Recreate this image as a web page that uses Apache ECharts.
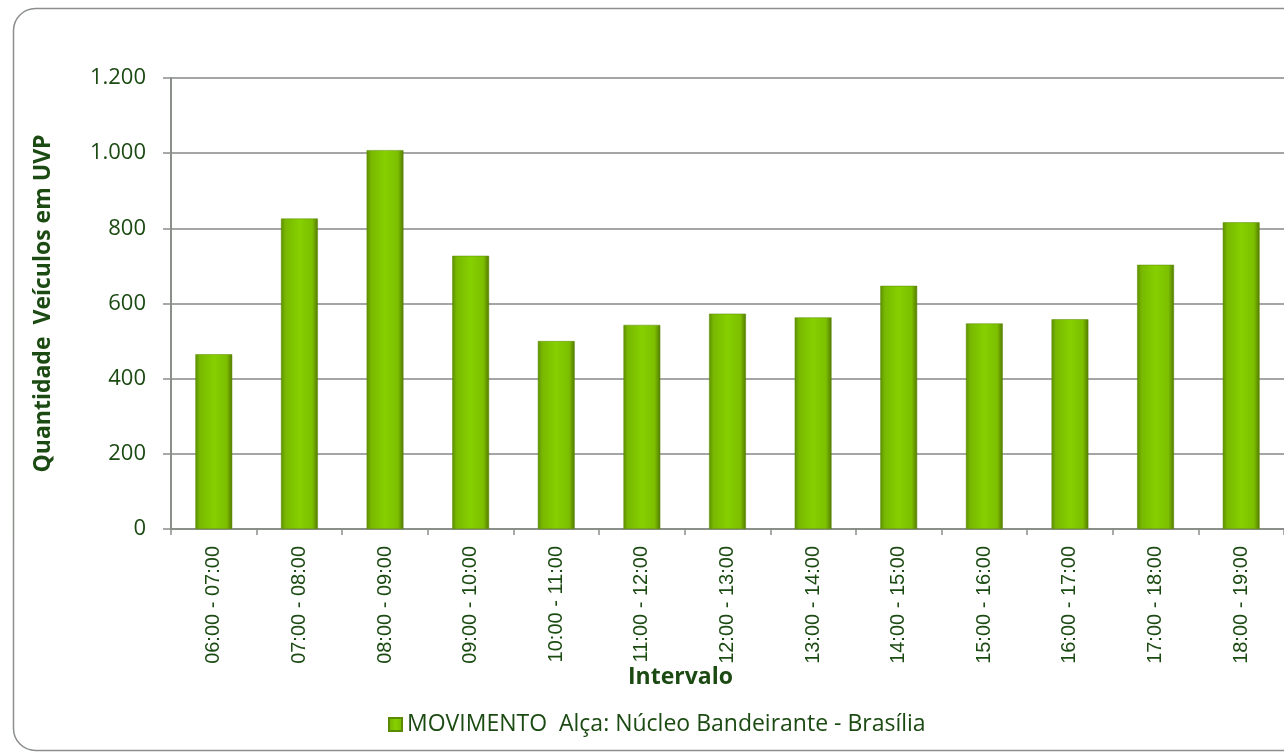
<!DOCTYPE html>
<html>
<head>
<meta charset="utf-8">
<script src="https://cdn.jsdelivr.net/npm/echarts@6/dist/echarts.min.js"></script>
<style>html,body{margin:0;padding:0;background:#fff;}#c{width:1284px;height:752px;}</style>
</head>
<body>
<div id="c"></div>
<script>
const categories = ["06:00 - 07:00","07:00 - 08:00","08:00 - 09:00","09:00 - 10:00","10:00 - 11:00","11:00 - 12:00","12:00 - 13:00","13:00 - 14:00","14:00 - 15:00","15:00 - 16:00","16:00 - 17:00","17:00 - 18:00","18:00 - 19:00"];
const values = [465, 826, 1008, 727, 500, 543, 573, 563, 647, 547, 558, 703, 816];
const seriesName = "MOVIMENTO  Alça: Núcleo Bandeirante - Brasília";
const yAxisTitle = "Quantidade  Veículos em UVP";
const xAxisTitle = "Intervalo";

const txt = "#1b4a12";
const font = '"Open Sans", "Noto Sans", sans-serif';
const chart = echarts.init(document.getElementById('c'), null, {renderer: 'canvas'});
const barFill = new echarts.graphic.LinearGradient(0, 0, 1, 0, [
  {offset: 0, color: '#5e8f00'},
  {offset: 0.12, color: '#78b800'},
  {offset: 0.5, color: '#86d000'},
  {offset: 0.85, color: '#7cbf00'},
  {offset: 0.92, color: '#6a9e00'},
  {offset: 1, color: '#517a00'}
]);
chart.setOption({
  animation: false,
  textStyle: {fontFamily: font},
  graphic: [
    {type: 'rect', shape: {x: 13.5, y: 8.5, width: 1300, height: 742, r: 22},
     style: {fill: 'none', stroke: '#8a8f8a', lineWidth: 1.5}, silent: true, z: -10},
    {type: 'text', left: 628, top: 666,
     style: {text: xAxisTitle, fill: txt, font: 'bold 23px ' + font}}
  ],
  grid: {left: 171, top: 78, right: 0, bottom: 223, containLabel: false},
  legend: {
    left: 383, top: 708, itemWidth: 13, itemHeight: 13, itemGap: 3,
    textStyle: {color: txt, fontSize: 23, fontFamily: font},
    data: [{name: seriesName, icon: 'rect'}]
  },
  xAxis: {
    type: 'category', data: categories,
    axisLine: {lineStyle: {color: '#8a8f8a', width: 2}},
    axisTick: {show: true, alignWithLabel: false, length: 6, lineStyle: {color: '#8a8f8a', width: 1.5}},
    axisLabel: {rotate: 90, color: txt, fontSize: 20, fontFamily: '"Liberation Sans", Arial, sans-serif', margin: 17, interval: 0},
    splitLine: {show: false}
  },
  yAxis: {
    type: 'value', min: 0, max: 1200, interval: 200,
    name: yAxisTitle, nameLocation: 'middle', nameGap: 116, nameRotate: 90,
    nameTextStyle: {color: txt, fontSize: 23, fontWeight: 'bold', fontFamily: font},
    axisLine: {show: true, lineStyle: {color: '#8a8f8a', width: 2}},
    axisTick: {show: true, length: 8, lineStyle: {color: '#8a8f8a', width: 1.5}},
    axisLabel: {color: txt, fontSize: 22, margin: 25, fontFamily: font,
      formatter: v => v >= 1000 ? Math.floor(v/1000) + '.' + String(v%1000).padStart(3,'0') : String(v)},
    splitLine: {show: true, lineStyle: {color: '#a3a6a3', width: 2}}
  },
  series: [{
    name: seriesName, type: 'bar', data: values,
    barCategoryGap: '57%',
    itemStyle: {color: barFill, borderColor: '#5a8a00', borderWidth: 0.5}
  }]
});
</script>
</body>
</html>
